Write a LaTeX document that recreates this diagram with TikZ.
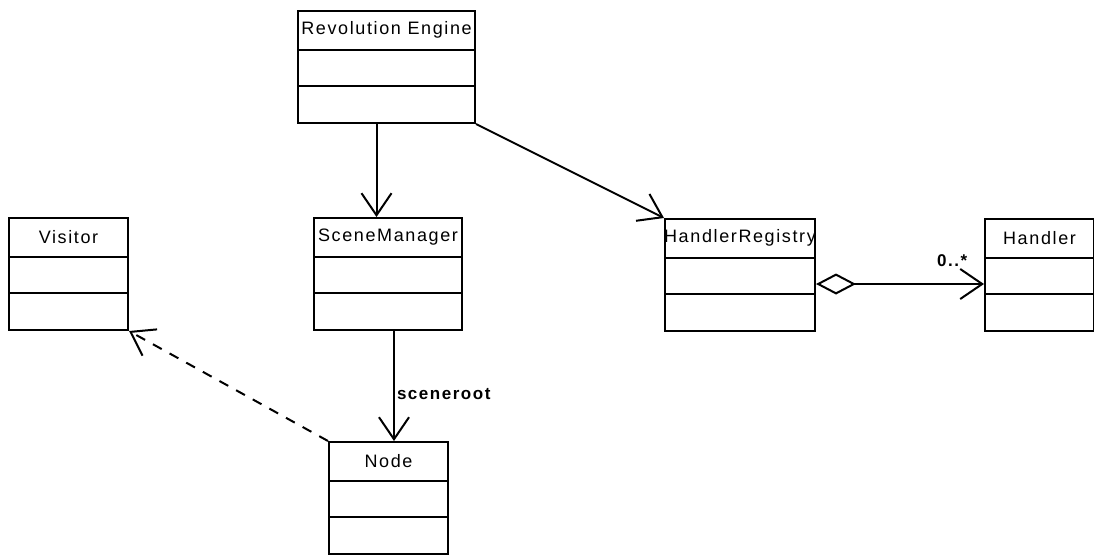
\documentclass[tikz,border=0pt]{standalone}
\usepackage{fontspec}
\setmainfont{Liberation Sans}[LetterSpace=9]
\usetikzlibrary{arrows.meta,calc}

\tikzset{
  classbox/.style={draw, line width=2pt, rectangle, inner sep=0pt,
    minimum height=112pt, anchor=north west},
  divider/.style={line width=2pt},
  classname/.style={font=\fontsize{18}{21}\selectfont, inner sep=0pt},
  assoc/.style={line width=2pt, -{Straight Barb[length=22pt,width=30pt]}},
  depend/.style={assoc, dash pattern=on 10pt off 9pt},
  aggr/.style={line width=2pt,
    {Diamond[open,length=40pt,width=21pt]}-{Straight Barb[length=22pt,width=30pt]}},
  rolelabel/.style={font=\bfseries\fontsize{17}{20}\selectfont, inner sep=2pt}
}

% class box: name, left, top, width, title
\newcommand{\umlclass}[5]{%
  \node[classbox, minimum width=#4] (#1) at (#2,#3) {};
  \node[classname] at ($(#1.north)+(0,20)$) {#5};
  \draw[divider] ($(#1.north west)+(0,40)$) -- ($(#1.north east)+(0,40)$);
  \draw[divider] ($(#1.north west)+(0,76)$) -- ($(#1.north east)+(0,76)$);
}

\begin{document}
\begin{tikzpicture}[x=1pt, y=-1pt]
  \useasboundingbox (0,0) rectangle (1094,555);

  \umlclass{engine}{297}{10}{177}{Revolution Engine}
  \umlclass{visitor}{8}{217}{119}{Visitor}
  \umlclass{scenemgr}{313}{217}{148}{SceneManager}
  \umlclass{registry}{664}{218}{150}{HandlerRegistry}
  \umlclass{handler}{984}{218}{109}{Handler}
  \umlclass{scenenode}{328}{441}{119}{Node}

  % associations
  \draw[assoc] ([xshift=-10pt]engine.south) -- ([xshift=-10pt]engine.south |- scenemgr.north);
  \draw[assoc] (engine.south east) -- (registry.north west);
  \draw[aggr] ([yshift=-9pt]registry.east) -- ([yshift=-9pt]registry.east -| handler.west)
    node[rolelabel, pos=0.81, above=14pt] {0..*};
  \draw[assoc] ([xshift=6pt]scenemgr.south) -- ([xshift=6pt]scenemgr.south |- scenenode.north)
    node[rolelabel, pos=0.57, right] {sceneroot};

  % dependency
  \draw[depend] (scenenode.north west) -- (visitor.south east);
\end{tikzpicture}
\end{document}
